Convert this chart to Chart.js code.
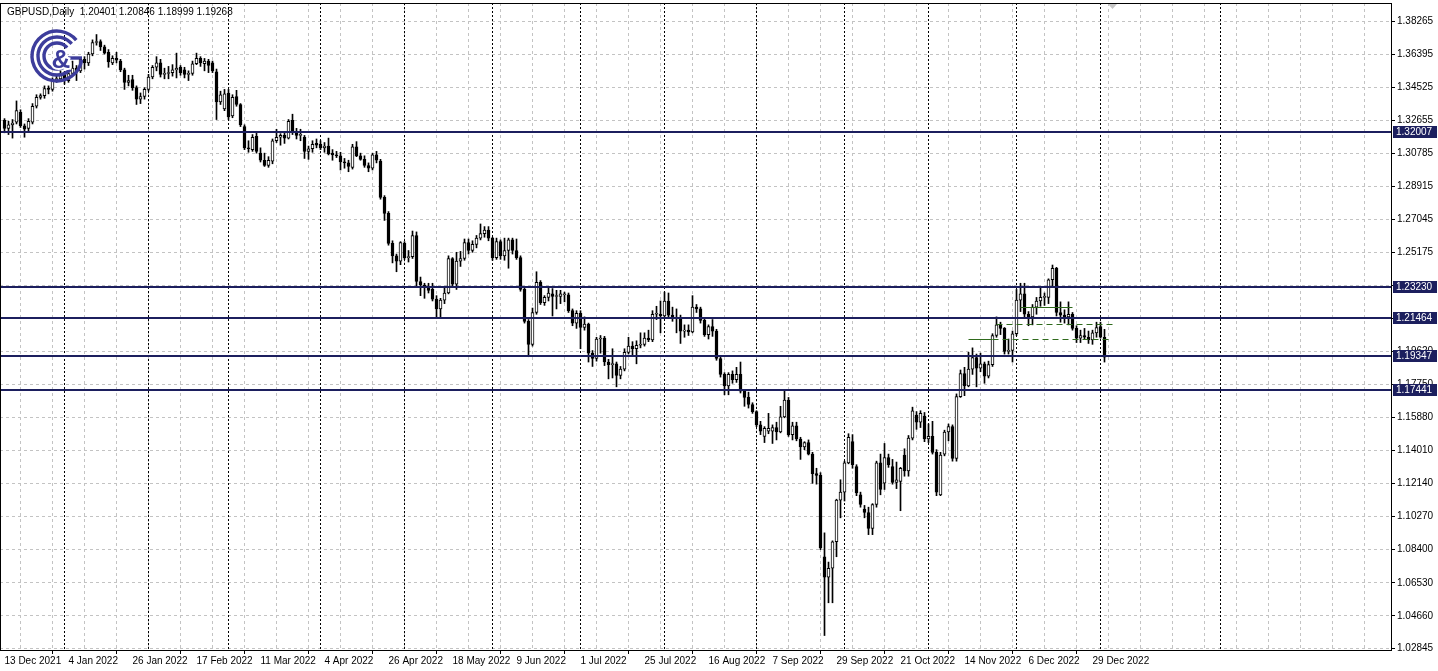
<!DOCTYPE html>
<html>
<head>
<meta charset="utf-8">
<script src="https://cdn.jsdelivr.net/npm/chart.js@4.4.0/dist/chart.umd.min.js"></script>
<style>
  html, body { margin: 0; padding: 0; background: #fff; }
</style>
</head>
<body>
<canvas id="myChart" width="1438" height="671"></canvas>
<script>
const ctx = document.getElementById("myChart").getContext("2d");

// daily GBPUSD candles, 13 Dec 2021 .. 3 Jan 2023 (weekdays, 26 Dec 2022 missing)
const opens = [
   1.3265,1.3220,1.3240,1.3255,1.3310,1.3235,1.3220,1.3255,1.3345,1.3395,1.3405,1.3445,1.3440,1.3495,1.3500,
   1.3530,1.3490,1.3530,1.3560,1.3545,1.3610,1.3590,1.3640,1.3705,1.3710,1.3680,1.3650,1.3590,1.3615,1.3600,1.3550,1.3480,1.3495,1.3450,1.3385,1.3400,
   1.3440,1.3510,1.3565,1.3590,1.3525,1.3530,1.3535,1.3550,1.3565,1.3550,1.3525,1.3530,1.3585,1.3615,1.3585,1.3600,1.3590,1.3540,1.3370,1.3330,
   1.3420,1.3290,1.3400,1.3355,1.3230,1.3110,1.3100,1.3175,1.3080,1.3040,1.3010,1.3035,1.3150,1.3170,1.3180,1.3165,1.3265,1.3195,1.3180,1.3170,1.3090,1.3105,1.3135,
   1.3130,1.3110,1.3120,1.3080,1.3070,1.3065,1.3030,1.3025,1.3000,1.3115,1.3065,1.3045,1.3010,1.2995,1.3070,1.3035,1.2830,1.2740,1.2570,1.2500,1.2470,
   1.2570,1.2490,1.2495,1.2615,1.2355,1.2335,1.2320,1.2310,1.2255,1.2200,1.2250,1.2290,1.2485,1.2340,1.2470,1.2485,1.2575,1.2530,1.2565,1.2600,1.2625,1.2645,
   1.2600,1.2490,1.2580,1.2500,1.2530,1.2590,1.2530,1.2490,1.2310,1.2130,1.2000,1.2180,1.2350,1.2235,1.2265,1.2285,1.2270,1.2270,1.2280,1.2280,1.2190,1.2120,
   1.2175,1.2095,1.2115,1.1950,1.1920,1.2030,1.2035,1.1900,1.1885,1.1890,1.1825,1.1860,1.1955,1.1990,1.1975,1.1995,1.2000,1.2035,1.2025,1.2170,1.2170,
   1.2160,1.2245,1.2165,1.2145,1.2150,1.2075,1.2080,1.2070,1.2210,1.2200,1.2135,1.2055,1.2100,1.2075,1.1920,1.1830,1.1765,1.1830,1.1800,1.1830,1.1735,1.1700,1.1660,
   1.1620,1.1545,1.1480,1.1510,1.1510,1.1530,1.1505,1.1590,1.1685,1.1490,1.1540,1.1465,1.1420,1.1445,1.1380,1.1270,1.1260,1.0800,1.0685,1.0735,1.0885,1.1120,
   1.1165,1.1330,1.1450,1.1310,1.1150,1.1070,1.1050,1.0960,1.1095,1.1330,1.1215,1.1360,1.1310,1.1220,1.1225,1.1375,1.1285,1.1470,1.1600,1.1560,1.1595,
   1.1465,1.1480,1.1390,1.1150,1.1380,1.1505,1.1535,1.1355,1.1705,1.1835,1.1765,1.1860,1.1925,1.1865,1.1890,1.1820,1.1885,1.2050,1.2110,1.2090,1.1960,1.1965,
   1.2060,1.2250,1.2285,1.2170,1.2155,1.2210,1.2245,1.2265,1.2265,1.2365,1.2430,1.2180,1.2165,1.2155,1.2170,1.2090,1.2035,1.2050,1.2040,1.2025,1.2065,
   1.2100,1.20401
];
const highs = [
   1.3275,1.3260,1.3270,1.3375,1.3325,1.3245,1.3275,1.3360,1.3410,1.3415,1.3460,1.3460,1.3505,1.3515,1.3545,
   1.3540,1.3555,1.3600,1.3575,1.3620,1.3625,1.3650,1.3720,1.3750,1.3720,1.3690,1.3665,1.3630,1.3650,1.3610,1.3560,1.3520,1.3520,1.3460,1.3420,1.3450,
   1.3525,1.3575,1.3625,1.3610,1.3560,1.3570,1.3580,1.3645,1.3575,1.3565,1.3545,1.3600,1.3645,1.3625,1.3615,1.3610,1.3600,1.3555,1.3430,1.3440,
   1.3440,1.3410,1.3435,1.3360,1.3240,1.3150,1.3185,1.3200,1.3110,1.3080,1.3060,1.3160,1.3215,1.3190,1.3195,1.3270,1.3300,1.3220,1.3215,1.3180,1.3120,1.3150,1.3160,
   1.3150,1.3140,1.3165,1.3100,1.3090,1.3085,1.3050,1.3040,1.3130,1.3145,1.3080,1.3065,1.3025,1.3080,1.3090,1.3045,1.2840,1.2750,1.2585,1.2510,1.2580,
   1.2580,1.2530,1.2640,1.2635,1.2380,1.2345,1.2345,1.2345,1.2275,1.2260,1.2320,1.2500,1.2490,1.2520,1.2525,1.2595,1.2595,1.2585,1.2615,1.2680,1.2665,1.2665,
   1.2605,1.2600,1.2590,1.2600,1.2600,1.2600,1.2595,1.2500,1.2320,1.2140,1.2205,1.2410,1.2360,1.2275,1.2320,1.2315,1.2305,1.2305,1.2295,1.2290,1.2200,1.2190,
   1.2190,1.2155,1.2120,1.1965,1.2040,1.2050,1.2045,1.1915,1.1975,1.1900,1.1875,1.1975,1.2040,1.2015,1.2020,1.2065,1.2065,1.2080,1.2190,1.2215,1.2245,
   1.2295,1.2290,1.2210,1.2200,1.2165,1.2110,1.2110,1.2275,1.2225,1.2210,1.2145,1.2110,1.2140,1.2085,1.1935,1.1840,1.1840,1.1850,1.1870,1.1900,1.1745,1.1730,1.1670,
   1.1625,1.1565,1.1535,1.1610,1.1545,1.1560,1.1650,1.1740,1.1700,1.1560,1.1560,1.1475,1.1450,1.1460,1.1390,1.1300,1.1275,1.0935,1.0770,1.0890,1.1125,1.1235,
   1.1340,1.1495,1.1490,1.1320,1.1165,1.1090,1.1080,1.1100,1.1340,1.1380,1.1440,1.1380,1.1350,1.1335,1.1305,1.1410,1.1485,1.1645,1.1620,1.1625,1.1615,
   1.1550,1.1565,1.1405,1.1390,1.1515,1.1550,1.1545,1.1720,1.1855,1.1870,1.1955,1.1980,1.1945,1.1950,1.1900,1.1905,1.2060,1.2155,1.2125,1.2095,1.2030,1.2075,
   1.2310,1.2345,1.2345,1.2185,1.2225,1.2265,1.2320,1.2290,1.2370,1.2448,1.2435,1.2240,1.2195,1.2240,1.2180,1.2105,1.2080,1.2090,1.2075,1.2080,1.2125,
   1.2125,1.20846
];
const lows = [
   1.3195,1.3185,1.3165,1.3245,1.3225,1.3170,1.3200,1.3245,1.3335,1.3385,1.3390,1.3415,1.3430,1.3480,1.3485,
   1.3470,1.3480,1.3520,1.3490,1.3535,1.3555,1.3575,1.3630,1.3690,1.3660,1.3640,1.3565,1.3580,1.3590,1.3540,1.3440,1.3460,1.3435,1.3355,1.3360,1.3385,
   1.3430,1.3500,1.3545,1.3510,1.3500,1.3500,1.3515,1.3505,1.3520,1.3505,1.3490,1.3520,1.3580,1.3570,1.3545,1.3535,1.3535,1.3270,1.3355,1.3320,
   1.3270,1.3280,1.3345,1.3230,1.3100,1.3085,1.3090,1.3080,1.3030,1.3005,1.3000,1.3020,1.3140,1.3125,1.3135,1.3160,1.3185,1.3160,1.3150,1.3050,1.3045,1.3085,1.3110,
   1.3100,1.3085,1.3070,1.3040,1.3055,1.2985,1.2995,1.2975,1.2990,1.3060,1.3040,1.3000,1.2975,1.2985,1.3025,1.2820,1.2700,1.2560,1.2460,1.2410,1.2450,
   1.2480,1.2465,1.2485,1.2325,1.2275,1.2260,1.2290,1.2245,1.2155,1.2155,1.2230,1.2285,1.2325,1.2310,1.2440,1.2475,1.2510,1.2520,1.2545,1.2590,1.2605,1.2585,
   1.2475,1.2480,1.2480,1.2475,1.2430,1.2510,1.2480,1.2300,1.2120,1.1930,1.1990,1.2170,1.2225,1.2220,1.2245,1.2160,1.2200,1.2230,1.2240,1.2180,1.2105,1.2090,
   1.1975,1.2080,1.1900,1.1875,1.1905,1.1950,1.1880,1.1805,1.1810,1.1760,1.1805,1.1850,1.1945,1.1935,1.1890,1.1980,1.1990,1.2015,1.2015,1.2140,1.2065,
   1.2155,1.2155,1.2130,1.2065,1.2005,1.2040,1.2050,1.2065,1.2180,1.2120,1.2045,1.2030,1.2045,1.1910,1.1815,1.1715,1.1715,1.1780,1.1785,1.1725,1.1650,1.1640,1.1610,
   1.1535,1.1490,1.1445,1.1495,1.1440,1.1460,1.1500,1.1585,1.1480,1.1460,1.1455,1.1350,1.1405,1.1375,1.1215,1.1210,1.0840,1.0355,1.0540,1.0540,1.0800,1.1020,
   1.1115,1.1325,1.1300,1.1145,1.1080,1.1020,1.0925,1.0925,1.1080,1.1150,1.1180,1.1305,1.1210,1.1185,1.1060,1.1255,1.1255,1.1460,1.1520,1.1530,1.1450,
   1.1445,1.1380,1.1145,1.1145,1.1370,1.1455,1.1340,1.1340,1.1700,1.1710,1.1760,1.1830,1.1760,1.1845,1.1780,1.1810,1.1875,1.2040,1.2055,1.1945,1.1945,1.1900,
   1.2050,1.2185,1.2150,1.2105,1.2110,1.2170,1.2215,1.2220,1.2230,1.2330,1.2160,1.2125,1.2120,1.2110,1.2080,1.2010,1.2010,1.2030,1.2005,1.2000,1.2040,
   1.2035,1.18999
];
const closes = [
   1.3220,1.3240,1.3250,1.3320,1.3235,1.3215,1.3260,1.3345,1.3395,1.3405,1.3445,1.3440,1.3495,1.3500,1.3530,
   1.3490,1.3530,1.3560,1.3545,1.3610,1.3590,1.3640,1.3705,1.3710,1.3680,1.3645,1.3595,1.3615,1.3605,1.3550,1.3480,1.3490,1.3450,1.3385,1.3400,1.3440,
   1.3510,1.3565,1.3590,1.3525,1.3530,1.3535,1.3550,1.3560,1.3535,1.3525,1.3530,1.3585,1.3615,1.3590,1.3600,1.3575,1.3545,1.3370,1.3410,1.3415,
   1.3285,1.3395,1.3355,1.3240,1.3110,1.3105,1.3170,1.3090,1.3040,1.3010,1.3040,1.3150,1.3170,1.3180,1.3165,1.3260,1.3195,1.3180,1.3185,1.3090,1.3105,1.3130,1.3125,
   1.3110,1.3120,1.3075,1.3070,1.3065,1.3030,1.3025,1.3005,1.3115,1.3065,1.3045,1.3010,1.2995,1.3070,1.3040,1.2830,1.2740,1.2570,1.2500,1.2470,1.2575,
   1.2490,1.2495,1.2615,1.2355,1.2335,1.2320,1.2305,1.2255,1.2200,1.2250,1.2290,1.2485,1.2340,1.2470,1.2485,1.2575,1.2530,1.2565,1.2600,1.2625,1.2645,1.2600,
   1.2490,1.2580,1.2500,1.2530,1.2590,1.2530,1.2490,1.2310,1.2130,1.2000,1.2180,1.2350,1.2235,1.2265,1.2290,1.2270,1.2275,1.2285,1.2285,1.2190,1.2120,1.2175,
   1.2095,1.2115,1.1950,1.1920,1.2030,1.2035,1.1900,1.1885,1.1890,1.1825,1.1860,1.1955,1.1990,1.1975,1.1995,1.2000,1.2035,1.2025,1.2170,1.2175,1.2160,
   1.2245,1.2165,1.2145,1.2150,1.2075,1.2080,1.2070,1.2210,1.2200,1.2135,1.2055,1.2100,1.2075,1.1920,1.1830,1.1765,1.1830,1.1800,1.1830,1.1735,1.1700,1.1660,1.1620,
   1.1545,1.1510,1.1525,1.1525,1.1530,1.1505,1.1590,1.1685,1.1490,1.1540,1.1465,1.1420,1.1445,1.1380,1.1270,1.1260,1.0850,1.0685,1.0735,1.0885,1.1120,1.1165,
   1.1330,1.1475,1.1320,1.1160,1.1095,1.1050,1.0960,1.1095,1.1330,1.1180,1.1360,1.1320,1.1220,1.1235,1.1300,1.1285,1.1470,1.1625,1.1560,1.1610,1.1465,
   1.1480,1.1390,1.1165,1.1375,1.1505,1.1535,1.1355,1.1705,1.1835,1.1765,1.1860,1.1925,1.1865,1.1890,1.1820,1.1885,1.2050,1.2110,1.2090,1.1960,1.1965,1.2060,
   1.2250,1.2285,1.2170,1.2155,1.2210,1.2245,1.2265,1.2270,1.2365,1.2430,1.2180,1.2165,1.2155,1.2170,1.2090,1.2035,1.2050,1.2040,1.2025,1.2065,1.2095,
   1.2040,1.19268
];

// one label every 16 bars, starting at bar 0
const xTickLabels = [
   '13 Dec 2021', '4 Jan 2022', '26 Jan 2022', '17 Feb 2022', '11 Mar 2022', '4 Apr 2022',
   '26 Apr 2022', '18 May 2022', '9 Jun 2022', '1 Jul 2022', '25 Jul 2022', '16 Aug 2022',
   '7 Sep 2022', '29 Sep 2022', '21 Oct 2022', '14 Nov 2022', '6 Dec 2022', '29 Dec 2022'
];
const yTicks = [
   1.38265, 1.36395, 1.34525, 1.32655, 1.30785, 1.28915, 1.27045, 1.25175, 1.23305, 1.21435,
   1.19620, 1.17750, 1.15880, 1.14010, 1.12140, 1.10270, 1.08400, 1.06530, 1.04660, 1.02845
];
// bar index of first bar of each month (period separators)
const monthStarts = [15, 36, 56, 79, 100, 122, 144, 165, 188, 210, 231, 253, 274, 304];
const levels = [1.32007, 1.23230, 1.21464, 1.19347, 1.17441];
// green drawing lines: [fromBar, toBar, price, dashed]
const greenLines = [
   [241, 247, 1.2030, false],
   [247, 276, 1.2030, true],
   [248, 278, 1.2114, true],
   [254, 267, 1.2211, false]
];

const navy = '#1c1f5e';
const font = "'Liberation Sans', Arial, sans-serif";

const wicks = lows.map((l, i) => ({ x: i, y: [l, highs[i]] }));
const bodies = opens.map((o, i) => ({ x: i, y: [o, closes[i]] }));

function drawLogo(c) {
   const cx = 57, cy = 56;
   c.save();
   c.strokeStyle = '#3d3d9c';
   c.lineWidth = 3.4;
   [25, 19, 13].forEach((r, k) => {
      c.beginPath();
      c.arc(cx, cy, r, Math.PI * (k === 0 ? 0.05 : 0.25), Math.PI * 1.78);
      c.stroke();
   });
   c.beginPath();
   c.moveTo(cx + 11, cy + 2);
   c.lineTo(cx + 25, cy + 2);
   c.stroke();
   c.font = 'bold 26px ' + font;
   c.textAlign = 'center';
   c.textBaseline = 'middle';
   c.lineWidth = 4;
   c.strokeStyle = '#fff';
   c.strokeText('&', cx + 4, cy + 5);
   c.fillStyle = '#3d3d9c';
   c.fillText('&', cx + 4, cy + 5);
   c.restore();
}

const overlay = {
   id: 'overlay',
   beforeDatasetsDraw(chart) {
      const { ctx: c, chartArea: a, scales: { x } } = chart;
      c.save();
      c.strokeStyle = '#000';
      c.lineWidth = 1;
      c.setLineDash([2, 2]);
      monthStarts.forEach(i => {
         const px = Math.floor(x.getPixelForValue(i)) + 0.5;
         c.beginPath();
         c.moveTo(px, a.top);
         c.lineTo(px, a.bottom);
         c.stroke();
      });
      c.restore();
   },
   afterDatasetsDraw(chart) {
      const { ctx: c, chartArea: a, scales: { x, y } } = chart;
      c.save();
      c.strokeStyle = '#2f6a1c';
      c.lineWidth = 1;
      greenLines.forEach(([i0, i1, p, dashed]) => {
         const py = Math.round(y.getPixelForValue(p)) + 0.5;
         c.setLineDash(dashed ? [6, 4] : []);
         c.beginPath();
         c.moveTo(x.getPixelForValue(i0), py);
         c.lineTo(x.getPixelForValue(i1), py);
         c.stroke();
      });
      c.setLineDash([]);
      c.strokeStyle = navy;
      c.lineWidth = 2;
      levels.forEach(v => {
         const py = Math.round(y.getPixelForValue(v));
         c.beginPath();
         c.moveTo(a.left, py);
         c.lineTo(a.right, py);
         c.stroke();
      });
      c.restore();
   },
   afterDraw(chart) {
      const { ctx: c, chartArea: a, scales: { y } } = chart;
      c.save();
      // frame
      c.strokeStyle = '#000';
      c.lineWidth = 1;
      c.strokeRect(a.left + 0.5, a.top + 0.5, a.right - a.left - 1, a.bottom - a.top - 1);
      // level price boxes
      c.font = '10px ' + font;
      c.textBaseline = 'middle';
      levels.forEach(v => {
         const py = Math.round(y.getPixelForValue(v));
         c.fillStyle = navy;
         c.fillRect(a.right + 1, py - 6, 44, 12);
         c.fillStyle = '#fff';
         c.fillText(v.toFixed(5), a.right + 4, py + 0.5);
      });
      // header
      const n = closes.length - 1;
      c.fillStyle = '#000';
      c.textBaseline = 'alphabetic';
      c.fillText('GBPUSD,Daily  ' + [opens[n], highs[n], lows[n], closes[n]].map(v => v.toFixed(5)).join(' '), 7, 15);
      // shift marker
      c.fillStyle = '#c6c6c6';
      c.beginPath();
      c.moveTo(1108, 4);
      c.lineTo(1117, 4);
      c.lineTo(1112.5, 9);
      c.closePath();
      c.fill();
      drawLogo(c);
      c.restore();
   }
};

const data = {
   datasets: [
      {
         label: 'body',
         data: bodies,
         grouped: false,
         barThickness: 3,
         minBarLength: 1,
         borderWidth: 1,
         borderSkipped: false,
         borderColor: '#000',
         backgroundColor: c => closes[c.dataIndex] >= opens[c.dataIndex] ? '#fff' : '#000',
         order: 0
      },
      {
         label: 'wick',
         data: wicks,
         grouped: false,
         barThickness: 1,
         borderWidth: 0,
         backgroundColor: '#000',
         order: 1
      }
   ]
};

const config = {
   type: 'bar',
   data: data,
   options: {
      responsive: false,
      animation: false,
      events: [],
      layout: { padding: { top: 3, left: 0, right: 0, bottom: 0 } },
      plugins: {
         legend: { display: false },
         tooltip: { enabled: false }
      },
      scales: {
         x: {
            type: 'linear',
            min: -1.125,
            max: 346.875,
            offset: false,
            afterBuildTicks: s => { s.ticks = Array.from({ length: 44 }, (_, k) => ({ value: k * 8 })); },
            afterFit: s => { s.height = 20; s.paddingLeft = 0; s.paddingRight = 0; },
            grid: {
               color: '#c3c3c3',
               tickLength: 3,
               tickColor: c => (c.tick && c.tick.value % 16 === 0 && c.tick.value <= 272) ? '#000' : 'rgba(0,0,0,0)'
            },
            border: { display: false, dash: [3, 3] },
            ticks: {
               autoSkip: false,
               maxRotation: 0,
               align: 'start',
               padding: 1,
               color: '#000',
               font: { family: font, size: 10 },
               callback: v => (v % 16 === 0 && xTickLabels[v / 16]) ? xTickLabels[v / 16] : ''
            }
         },
         y: {
            position: 'right',
            min: 1.02676,
            max: 1.39282,
            afterBuildTicks: s => { s.ticks = yTicks.map(v => ({ value: v })); },
            afterFit: s => { s.width = 46; s.paddingTop = 0; s.paddingBottom = 0; },
            grid: { color: '#c3c3c3', tickLength: 3, tickColor: '#000' },
            border: { display: false, dash: [3, 3] },
            ticks: {
               autoSkip: false,
               padding: 2,
               color: '#000',
               font: { family: font, size: 10 },
               callback: v => v.toFixed(5)
            }
         }
      }
   },
   plugins: [overlay]
};

const myChart = new Chart(ctx, config);
</script>
</body>
</html>
